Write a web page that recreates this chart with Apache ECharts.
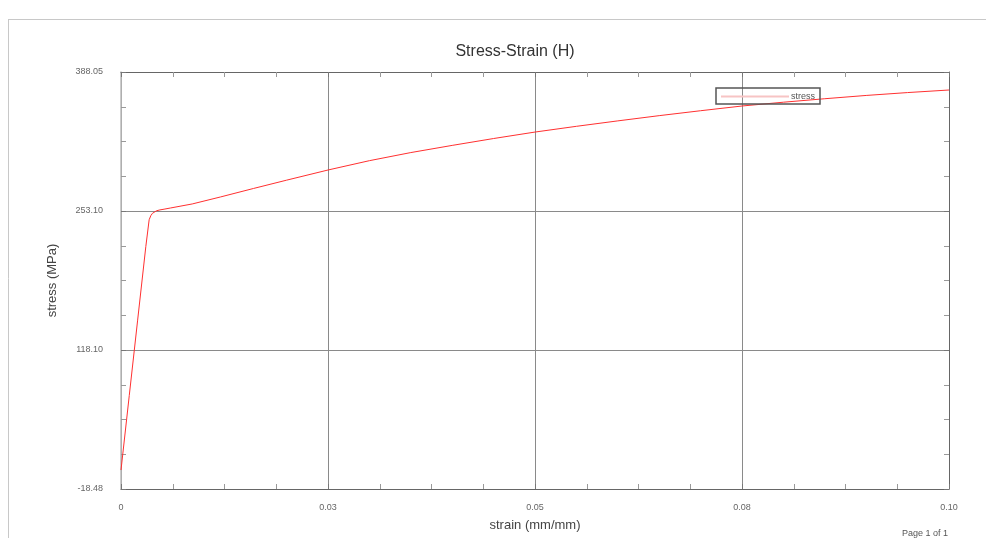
<!DOCTYPE html>
<html>
<head>
<meta charset="utf-8">
<script src="https://cdn.jsdelivr.net/npm/echarts@6/dist/echarts.min.js"></script>
<style>
html,body{margin:0;padding:0;background:#fff;}
#chart{width:986px;height:538px;}
</style>
</head>
<body>
<div id="chart"></div>
<script>
// Data
var strain = [0, 0.001, 0.002, 0.003, 0.0034, 0.0036, 0.0038, 0.0040, 0.0043, 0.0047, 0.0052, 0.006, 0.0086, 0.012, 0.016, 0.02, 0.025, 0.03, 0.035, 0.04, 0.045, 0.05, 0.055, 0.06, 0.065, 0.07, 0.075, 0.08, 0.085, 0.09, 0.095, 0.1];
var stress = [0, 72.7, 145.4, 218.0, 244.0, 248.0, 250.3, 251.7, 252.8, 253.6, 254.3, 255.5, 259.4, 266.2, 274.5, 282.6, 292.5, 301.6, 309.5, 316.5, 323.2, 329.5, 335.1, 340.4, 345.5, 350.3, 354.9, 358.6, 362.0, 365.2, 368.0, 370.5];
var xTickLabels = ['0', '0.03', '0.05', '0.08', '0.10'];
var yTickLabels = ['-18.48', '118.10', '253.10', '388.05'];
var seriesName = 'stress';

var yMin = -18.48, yMax = 388.05, yInterval = 135.51;
var xMin = 0, xMax = 0.1, xInterval = 0.025;

var pts = strain.map(function (s, i) { return [s, stress[i]]; });

var tickStyle = { show: true, inside: true, length: 5, lineStyle: { color: '#777', width: 1 } };
var minorStyle = { show: true, splitNumber: 4, length: 5, lineStyle: { color: '#999', width: 1 } };
var labelStyle = { color: '#666', fontSize: 9, fontFamily: 'Liberation Sans, Arial, sans-serif' };

function xLabel(v) { return xTickLabels[Math.round((v - xMin) / xInterval)] || ''; }
function yLabel(v) { return yTickLabels[Math.round((v - yMin) / yInterval)] || ''; }

var chart = echarts.init(document.getElementById('chart'), null, { renderer: 'canvas' });
chart.setOption({
  backgroundColor: '#fff',
  animation: false,
  title: {
    text: 'Stress-Strain (H)',
    left: 510, top: 39, textAlign: 'center',
    textStyle: { fontSize: 16, fontWeight: 'normal', color: '#333', fontFamily: 'Liberation Sans, Arial, sans-serif' }
  },
  legend: {
    left: 716, top: 88,
    orient: 'horizontal',
    borderColor: '#555', borderWidth: 1.5,
    padding: [4, 5, 3, 5],
    itemWidth: 68, itemHeight: 2, itemGap: 0,
    icon: 'rect',
    data: [{ name: seriesName, itemStyle: { color: '#f7c4c4' } }],
    textStyle: { fontSize: 9, color: '#555', padding: [0, 0, 0, -3], fontFamily: 'Liberation Sans, Arial, sans-serif' }
  },
  grid: { left: 121, right: 37, top: 72, bottom: 49, containLabel: false },
  xAxis: [{
    type: 'value', min: xMin, max: xMax, interval: xInterval,
    name: 'strain (mm/mm)', nameLocation: 'middle', nameGap: 30,
    nameTextStyle: { fontSize: 13, color: '#444', fontFamily: 'Liberation Sans, Arial, sans-serif' },
    axisLine: { show: true, onZero: false, lineStyle: { color: '#666', width: 1 } },
    axisTick: tickStyle, minorTick: minorStyle,
    axisLabel: Object.assign({ margin: 14, formatter: xLabel }, labelStyle),
    splitLine: { show: true, lineStyle: { color: '#8a8a8a', width: 1 } }
  }, {
    type: 'value', position: 'top', min: xMin, max: xMax, interval: xInterval,
    axisLine: { show: true, onZero: false, lineStyle: { color: '#666', width: 1 } },
    axisTick: tickStyle, minorTick: minorStyle,
    axisLabel: { show: false }, splitLine: { show: false }
  }],
  yAxis: [{
    type: 'value', min: yMin, max: yMax, interval: yInterval,
    name: 'stress (MPa)', nameLocation: 'middle', nameGap: 62,
    nameTextStyle: { fontSize: 13, color: '#444', fontFamily: 'Liberation Sans, Arial, sans-serif' },
    axisLine: { show: true, onZero: false, lineStyle: { color: '#bbb', width: 1.5 } },
    axisTick: tickStyle, minorTick: minorStyle,
    axisLabel: Object.assign({ margin: 18, formatter: yLabel }, labelStyle),
    splitLine: { show: true, lineStyle: { color: '#8a8a8a', width: 1 } }
  }, {
    type: 'value', position: 'right', min: yMin, max: yMax, interval: yInterval,
    axisLine: { show: true, onZero: false, lineStyle: { color: '#666', width: 1 } },
    axisTick: tickStyle, minorTick: minorStyle,
    axisLabel: { show: false }, splitLine: { show: false }
  }],
  series: [{
    name: seriesName, type: 'line', xAxisIndex: 0, yAxisIndex: 0,
    data: pts, showSymbol: false, smooth: false,
    lineStyle: { color: '#ff3030', width: 1 },
    itemStyle: { color: '#ff3030' }
  }],
  graphic: [
    { type: 'line', shape: { x1: 8, y1: 19.5, x2: 986, y2: 19.5 }, style: { stroke: '#c8c8c8', lineWidth: 1 } },
    { type: 'line', shape: { x1: 8.5, y1: 19, x2: 8.5, y2: 538 }, style: { stroke: '#c8c8c8', lineWidth: 1 } },
    { type: 'text', left: 902, top: 529, style: { text: 'Page 1 of 1', fontSize: 9, fill: '#555', fontFamily: 'Liberation Sans, Arial, sans-serif' } }
  ]
});
</script>
</body>
</html>
